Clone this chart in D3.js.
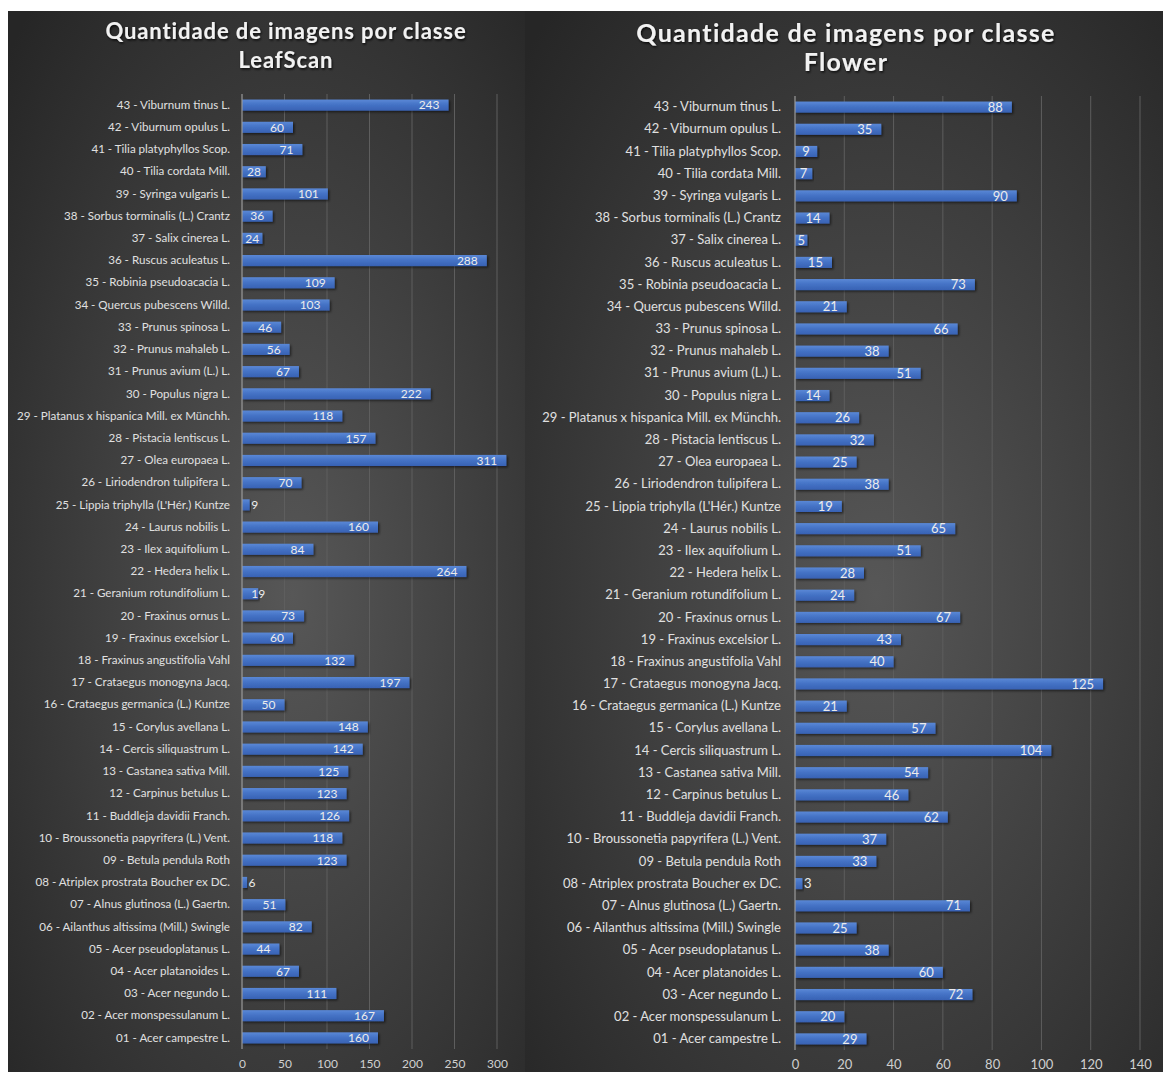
<!DOCTYPE html>
<html>
<head>
<meta charset="utf-8">
<script src="https://cdn.jsdelivr.net/npm/d3@7"></script>
<style>
  html, body { margin: 0; padding: 0; background: #ffffff; }
  svg { display: block; }
  text { font-family: Lato, "Open Sans", sans-serif; }
</style>
</head>
<body>
<svg id="chart" width="1165" height="1072"></svg>
<script>
// Species classes, bottom (01) to top (43)
const classes = [
  "01 - Acer campestre L.",
  "02 - Acer monspessulanum L.",
  "03 - Acer negundo L.",
  "04 - Acer platanoides L.",
  "05 - Acer pseudoplatanus L.",
  "06 - Ailanthus altissima (Mill.) Swingle",
  "07 - Alnus glutinosa (L.) Gaertn.",
  "08 - Atriplex prostrata Boucher ex DC.",
  "09 - Betula pendula Roth",
  "10 - Broussonetia papyrifera (L.) Vent.",
  "11 - Buddleja davidii Franch.",
  "12 - Carpinus betulus L.",
  "13 - Castanea sativa Mill.",
  "14 - Cercis siliquastrum L.",
  "15 - Corylus avellana L.",
  "16 - Crataegus germanica (L.) Kuntze",
  "17 - Crataegus monogyna Jacq.",
  "18 - Fraxinus angustifolia Vahl",
  "19 - Fraxinus excelsior L.",
  "20 - Fraxinus ornus L.",
  "21 - Geranium rotundifolium L.",
  "22 - Hedera helix L.",
  "23 - Ilex aquifolium L.",
  "24 - Laurus nobilis L.",
  "25 - Lippia triphylla (L'Hér.) Kuntze",
  "26 - Liriodendron tulipifera L.",
  "27 - Olea europaea L.",
  "28 - Pistacia lentiscus L.",
  "29 - Platanus x hispanica Mill. ex Münchh.",
  "30 - Populus nigra L.",
  "31 - Prunus avium (L.) L.",
  "32 - Prunus mahaleb L.",
  "33 - Prunus spinosa L.",
  "34 - Quercus pubescens Willd.",
  "35 - Robinia pseudoacacia L.",
  "36 - Ruscus aculeatus L.",
  "37 - Salix cinerea L.",
  "38 - Sorbus torminalis (L.) Crantz",
  "39 - Syringa vulgaris L.",
  "40 - Tilia cordata Mill.",
  "41 - Tilia platyphyllos Scop.",
  "42 - Viburnum opulus L.",
  "43 - Viburnum tinus L."
];

// Image counts per class (same order as classes)
const leafScanCounts = [
  160, 167, 111, 67, 44, 82, 51, 6, 123, 118,
  126, 123, 125, 142, 148, 50, 197, 132, 60, 73,
  19, 264, 84, 160, 9, 70, 311, 157, 118, 222,
  67, 56, 46, 103, 109, 288, 24, 36, 101, 28,
  71, 60, 243
];

const flowerCounts = [
  29, 20, 72, 60, 38, 25, 71, 3, 33, 37,
  62, 46, 54, 104, 57, 21, 125, 40, 43, 67,
  24, 28, 51, 65, 19, 38, 25, 32, 26, 14,
  51, 38, 66, 21, 73, 15, 5, 14, 90, 7,
  9, 35, 88
];

const leafScanTicks = [0, 50, 100, 150, 200, 250, 300];
const flowerTicks = [0, 20, 40, 60, 80, 100, 120, 140];

const titleLine1 = "Quantidade de imagens por classe";

const svg = d3.select("#chart");
const defs = svg.append("defs");

// Dark radial background
const bg = defs.append("radialGradient")
  .attr("id", "panelBg")
  .attr("cx", "55%").attr("cy", "55%").attr("r", "75%");
bg.append("stop").attr("offset", "0%").attr("stop-color", "#575757");
bg.append("stop").attr("offset", "100%").attr("stop-color", "#262626");

// Bar fill with a soft vertical sheen
const barGrad = defs.append("linearGradient")
  .attr("id", "barFill").attr("x1", 0).attr("y1", 0).attr("x2", 0).attr("y2", 1);
barGrad.append("stop").attr("offset", "0%").attr("stop-color", "#5a88d6");
barGrad.append("stop").attr("offset", "45%").attr("stop-color", "#4573c6");
barGrad.append("stop").attr("offset", "100%").attr("stop-color", "#3862b4");

const shadow = defs.append("filter").attr("id", "barShadow")
  .attr("x", "-5%").attr("y", "-30%").attr("width", "115%").attr("height", "180%");
shadow.append("feDropShadow")
  .attr("dx", 1.5).attr("dy", 1.5).attr("stdDeviation", 1)
  .attr("flood-color", "#000").attr("flood-opacity", 0.55);

const titleShadow = defs.append("filter").attr("id", "titleShadow")
  .attr("x", "-10%").attr("y", "-30%").attr("width", "120%").attr("height", "160%");
titleShadow.append("feDropShadow")
  .attr("dx", 1).attr("dy", 1.5).attr("stdDeviation", 1.2)
  .attr("flood-color", "#000").attr("flood-opacity", 0.8);

function drawPanel(cfg) {
  const g = svg.append("g");

  g.append("rect")
    .attr("x", cfg.x0).attr("y", cfg.y0)
    .attr("width", cfg.x1 - cfg.x0).attr("height", cfg.y1 - cfg.y0)
    .attr("fill", "url(#panelBg)");

  // Title
  const title = g.append("text")
    .attr("text-anchor", "middle")
    .attr("fill", "#f2f2f2")
    .attr("font-weight", 700)
    .attr("font-size", cfg.titleSize)
    .attr("letter-spacing", cfg.titleSpacing)
    .attr("filter", "url(#titleShadow)");
  title.append("tspan").attr("x", cfg.titleX).attr("y", cfg.titleY1).text(titleLine1);
  title.append("tspan").attr("x", cfg.titleX).attr("y", cfg.titleY2).text(cfg.subtitle);

  const x = d3.scaleLinear().domain(cfg.domain).range([cfg.plotLeft, cfg.plotRight]);
  const y = d3.scaleBand()
    .domain(classes.slice().reverse())
    .range([cfg.plotTop, cfg.plotBottom])
    .paddingInner(0.5).paddingOuter(0.25);

  // Vertical gridlines
  g.append("g")
    .selectAll("line")
    .data(cfg.ticks.filter(t => t > 0))
    .join("line")
    .attr("x1", d => x(d)).attr("x2", d => x(d))
    .attr("y1", cfg.plotTop).attr("y2", cfg.plotBottom)
    .attr("stroke", "#5e5e5e").attr("stroke-width", 1);

  // Bottom tick labels
  const xAxis = d3.axisBottom(x).tickValues(cfg.ticks).tickSize(0).tickPadding(0);
  const xa = g.append("g")
    .attr("transform", `translate(0,${cfg.tickY})`)
    .call(xAxis);
  xa.select(".domain").remove();
  xa.selectAll("text")
    .attr("fill", "#d0d0d0")
    .attr("font-size", cfg.tickSize)
    .attr("font-family", "Lato, sans-serif")
    .attr("dy", "0.35em");

  // Category labels
  const yAxis = d3.axisLeft(y).tickSize(0).tickPadding(cfg.labelGap);
  const ya = g.append("g")
    .attr("transform", `translate(${cfg.plotLeft},0)`)
    .call(yAxis);
  ya.select(".domain").remove();
  ya.selectAll("text")
    .attr("fill", "#e0e0e0")
    .attr("font-size", cfg.labelSize)
    .attr("font-family", "Lato, sans-serif");

  // Bars
  const rows = classes.map((c, i) => ({ name: c, value: cfg.values[i] }));
  g.append("g")
    .selectAll("rect")
    .data(rows)
    .join("rect")
    .attr("x", x(0))
    .attr("y", d => y(d.name))
    .attr("width", d => x(d.value) - x(0))
    .attr("height", y.bandwidth())
    .attr("fill", "url(#barFill)")
    .attr("filter", "url(#barShadow)");

  // Category axis line
  g.append("line")
    .attr("x1", x(0)).attr("x2", x(0))
    .attr("y1", cfg.plotTop).attr("y2", cfg.plotBottom)
    .attr("stroke", "#9a9a9a").attr("stroke-width", 1.2);

  // Value labels at the inner end of each bar; tiny bars get theirs outside
  const labels = g.append("g")
    .selectAll("text")
    .data(rows)
    .join("text")
    .attr("y", d => y(d.name) + y.bandwidth() / 2)
    .attr("dy", "0.36em")
    .attr("fill", "#ececec")
    .attr("font-size", cfg.valueSize)
    .text(d => d.value);

  labels.each(function (d) {
    const t = d3.select(this);
    const tw = this.getComputedTextLength();
    const end = x(d.value);
    const w = end - x(0);
    const pad = Math.min(9, (w - tw) / 2);
    if (pad >= 2) {
      t.attr("text-anchor", "end").attr("x", end - pad);
    } else if (w >= 12) {
      t.attr("text-anchor", "middle").attr("x", end);
    } else {
      t.attr("text-anchor", "start").attr("x", end + 1.5);
    }
  });
}

drawPanel({
  x0: 8, x1: 525, y0: 11, y1: 1072,
  subtitle: "LeafScan",
  titleX: 286, titleY1: 39, titleY2: 68, titleSize: 22, titleSpacing: 0.9,
  values: leafScanCounts,
  domain: [0, 300], ticks: leafScanTicks,
  plotLeft: 242, plotRight: 497, plotTop: 94, plotBottom: 1049,
  tickY: 1064, tickSize: 12, labelSize: 11.6, labelGap: 12, valueSize: 12
});

drawPanel({
  x0: 525, x1: 1163, y0: 11, y1: 1072,
  subtitle: "Flower",
  titleX: 846, titleY1: 42, titleY2: 71, titleSize: 25, titleSpacing: 1.3,
  values: flowerCounts,
  domain: [0, 140], ticks: flowerTicks,
  plotLeft: 795, plotRight: 1140, plotTop: 96, plotBottom: 1050,
  tickY: 1064, tickSize: 13, labelSize: 13, labelGap: 14, valueSize: 13
});
</script>
</body>
</html>
